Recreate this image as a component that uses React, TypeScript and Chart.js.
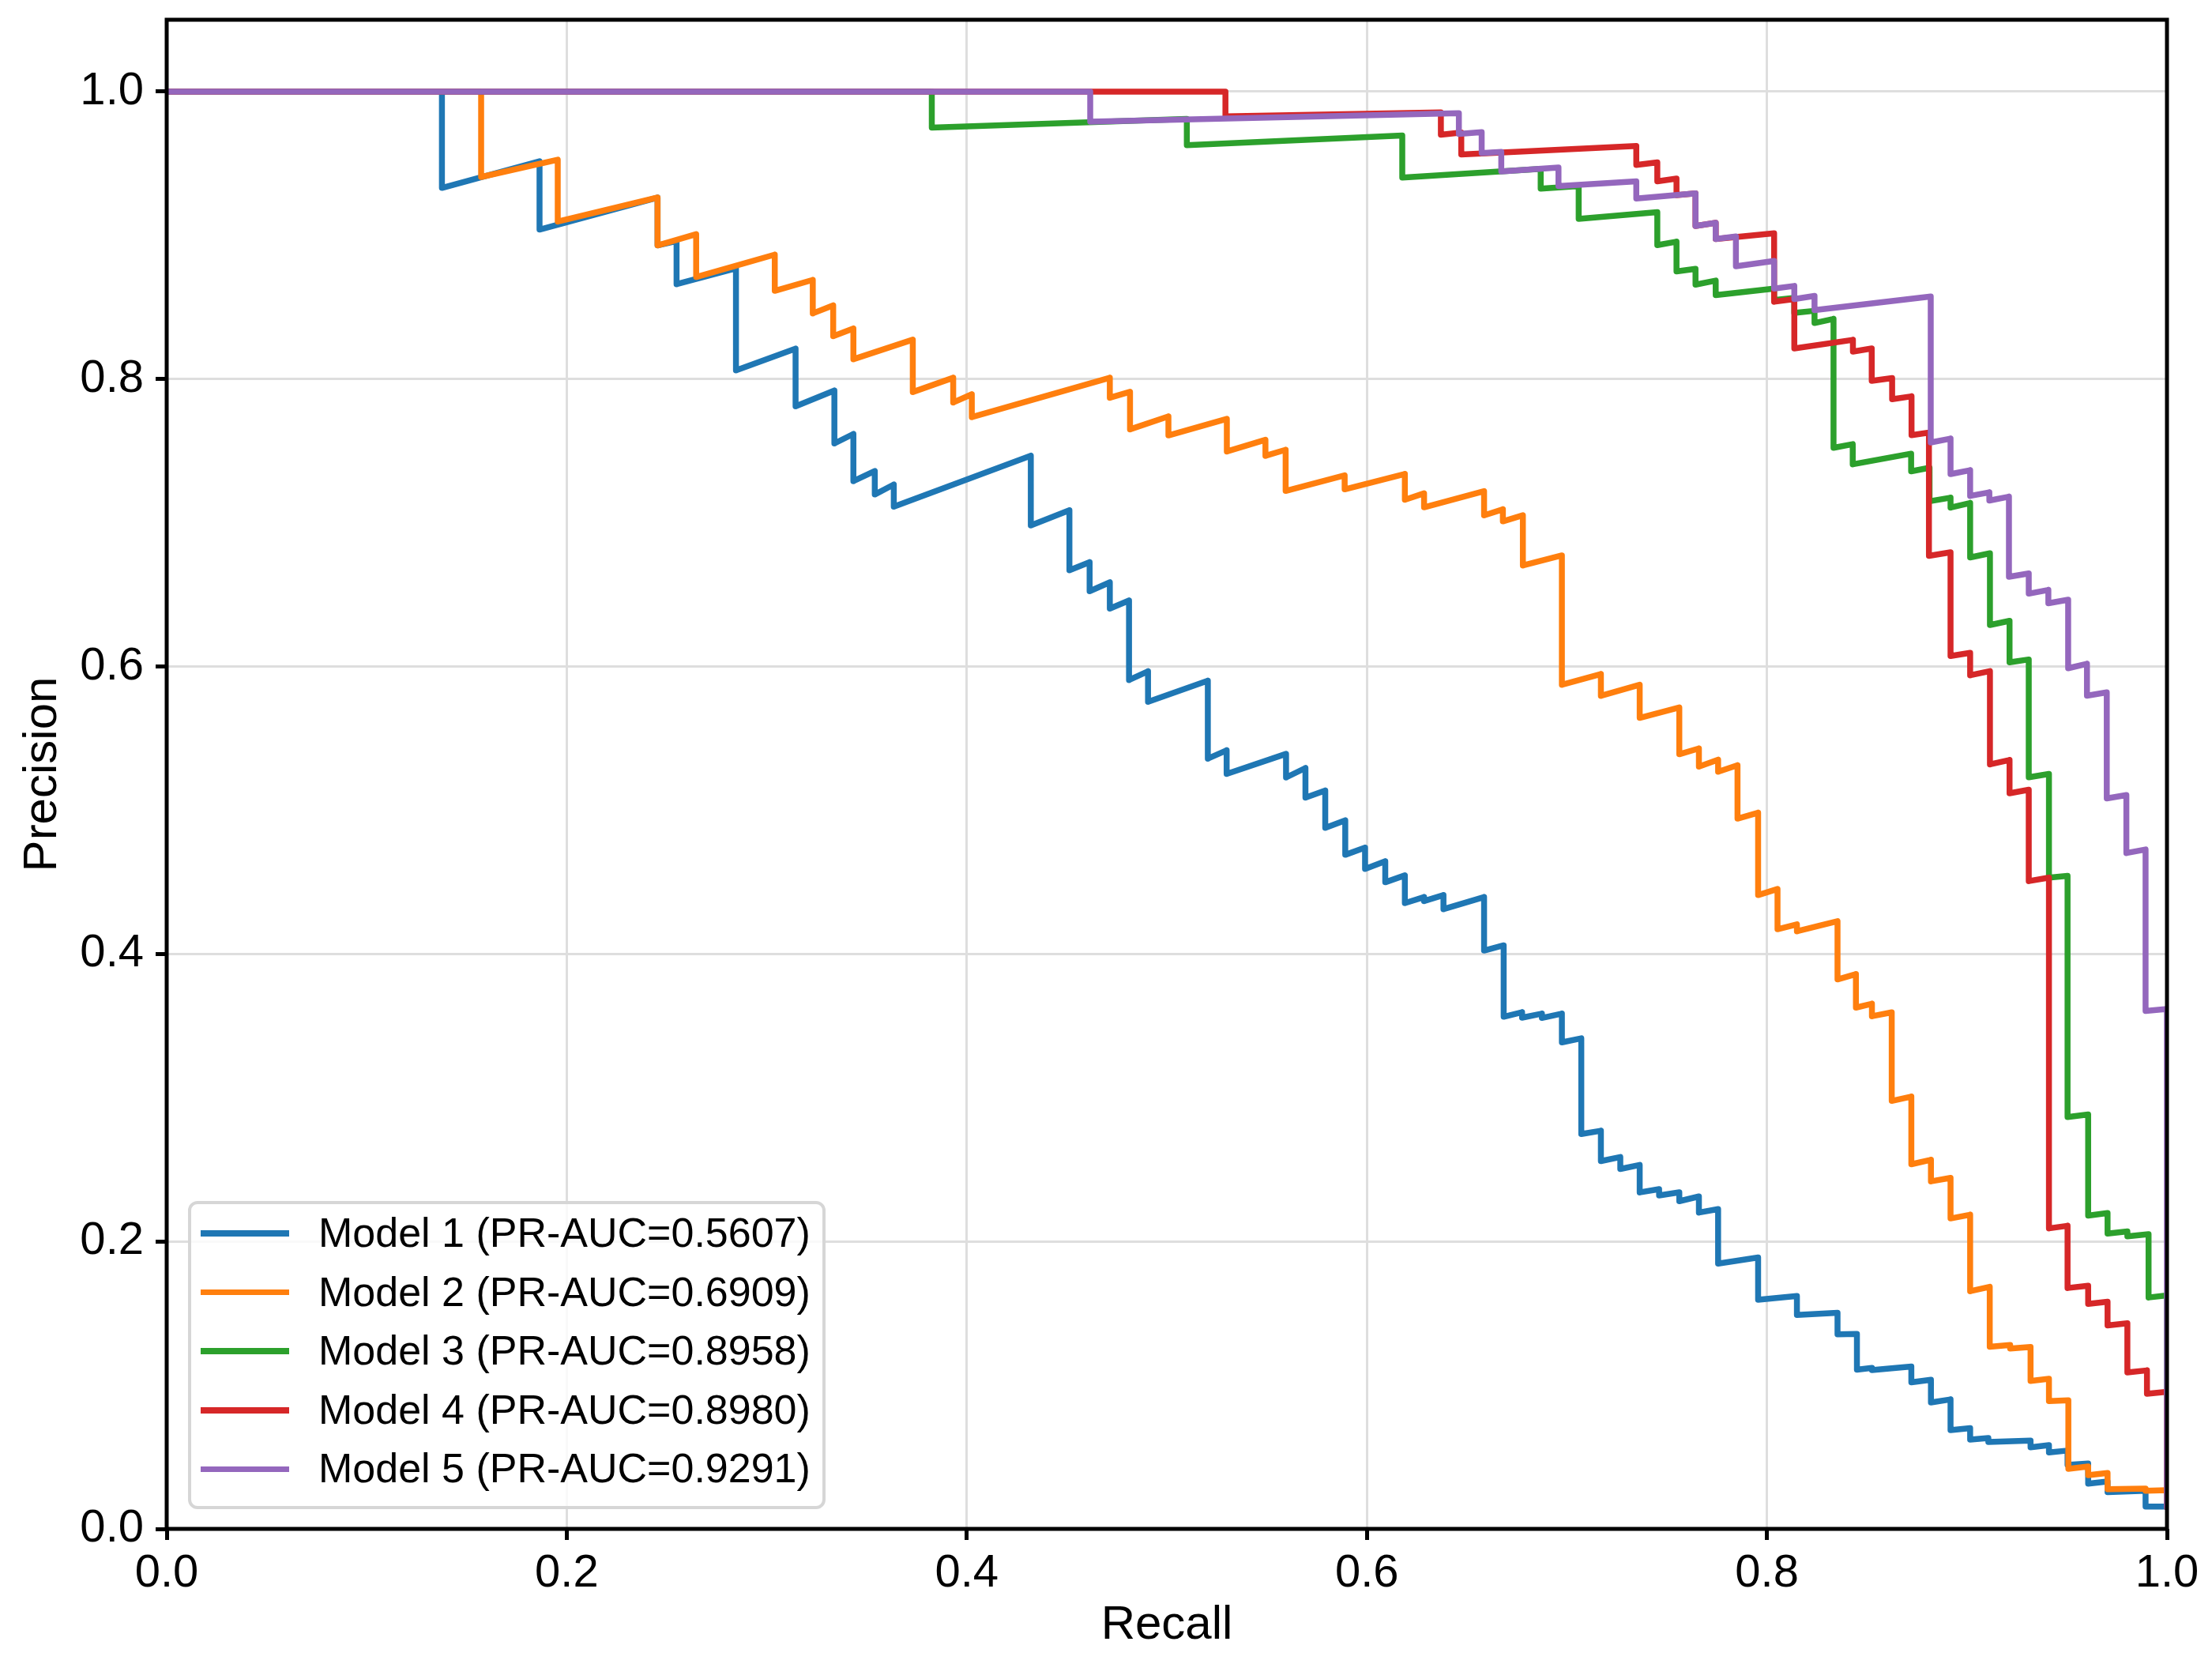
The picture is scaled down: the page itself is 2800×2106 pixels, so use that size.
import { useEffect, useRef } from 'react'
import { Chart, registerables } from 'chart.js'
Chart.register(...registerables)

const FONT = "'Liberation Sans', Arial, Helvetica, sans-serif"

// share of positives: where every curve ends at recall = 1
const BASE_RATE = 0.015

const modelNames = [
    'Model 1 (PR-AUC=0.5607)',
    'Model 2 (PR-AUC=0.6909)',
    'Model 3 (PR-AUC=0.8958)',
    'Model 4 (PR-AUC=0.8980)',
    'Model 5 (PR-AUC=0.9291)',
]
const modelColors = ['#1f77b4', '#ff7f0e', '#2ca02c', '#d62728', '#9467bd']

// each model: recall where precision drops, precision just before / after that drop,
// and the precision reached at recall = 1
const m1Recall = [0.1376, 0.1864, 0.2454, 0.2549, 0.2846, 0.3144, 0.3338, 0.3433, 0.354, 0.3635, 0.432, 0.4513, 0.4614, 0.4715, 0.4811, 0.4906, 0.5205, 0.5299, 0.5596, 0.5693, 0.5792, 0.5892, 0.5991, 0.6092, 0.619, 0.6286, 0.6383, 0.6586, 0.6684, 0.6776, 0.6875, 0.6975, 0.7072, 0.717, 0.7267, 0.7364, 0.7461, 0.7562, 0.766, 0.7756, 0.7956, 0.815, 0.8353, 0.845, 0.8525, 0.8722, 0.882, 0.8918, 0.9016, 0.9107, 0.9318, 0.941, 0.9503, 0.9606, 0.9703, 0.9893]
const m1Before = [1, 0.9515, 0.9263, 0.896, 0.877, 0.8212, 0.792, 0.7618, 0.736, 0.7266, 0.7467, 0.7087, 0.6726, 0.6586, 0.6459, 0.5967, 0.5901, 0.5417, 0.5392, 0.5294, 0.5137, 0.493, 0.474, 0.4645, 0.4547, 0.4396, 0.441, 0.4396, 0.406, 0.3595, 0.3585, 0.3585, 0.3413, 0.277, 0.2587, 0.2532, 0.2364, 0.2342, 0.2313, 0.2225, 0.1888, 0.162, 0.1503, 0.1357, 0.112, 0.113, 0.1038, 0.0901, 0.0701, 0.0632, 0.0615, 0.0583, 0.0545, 0.0455, 0.033, 0.0265]
const m1After = [0.933, 0.904, 0.893, 0.866, 0.806, 0.781, 0.7552, 0.729, 0.7197, 0.7112, 0.6982, 0.667, 0.6524, 0.6403, 0.5906, 0.5754, 0.5359, 0.5253, 0.5228, 0.5088, 0.4877, 0.469, 0.4592, 0.4499, 0.4354, 0.4368, 0.4312, 0.4024, 0.3563, 0.3557, 0.3555, 0.3385, 0.2747, 0.2559, 0.2504, 0.2341, 0.232, 0.228, 0.2201, 0.1846, 0.1594, 0.1489, 0.1354, 0.1108, 0.1105, 0.102, 0.088, 0.0687, 0.0621, 0.0605, 0.0568, 0.0532, 0.0445, 0.0315, 0.0255, 0.0155]
const m1End = 0.0155

const m2Recall = [0.1572, 0.1955, 0.2454, 0.2647, 0.304, 0.323, 0.3332, 0.3433, 0.373, 0.3932, 0.4025, 0.4715, 0.4816, 0.5008, 0.53, 0.5493, 0.5594, 0.5889, 0.619, 0.6286, 0.6586, 0.668, 0.678, 0.6975, 0.717, 0.7364, 0.7562, 0.766, 0.7756, 0.7853, 0.7956, 0.8053, 0.815, 0.8353, 0.8445, 0.8525, 0.8624, 0.8722, 0.882, 0.8918, 0.9016, 0.9114, 0.9216, 0.9318, 0.941, 0.9507, 0.9606, 0.9703, 0.9893]
const m2Before = [1, 0.9526, 0.9263, 0.9008, 0.8866, 0.869, 0.8513, 0.8352, 0.8274, 0.8009, 0.7894, 0.8009, 0.7911, 0.774, 0.7723, 0.7577, 0.7508, 0.733, 0.734, 0.7205, 0.722, 0.7094, 0.7052, 0.6773, 0.5948, 0.5873, 0.5715, 0.543, 0.5352, 0.5313, 0.4983, 0.4452, 0.4206, 0.4228, 0.386, 0.3654, 0.3594, 0.3008, 0.2568, 0.2442, 0.2186, 0.1684, 0.128, 0.1266, 0.1044, 0.0895, 0.0434, 0.0389, 0.028]
const m2After = [0.9406, 0.9096, 0.893, 0.871, 0.8614, 0.8457, 0.8298, 0.8138, 0.791, 0.7837, 0.7735, 0.787, 0.765, 0.7608, 0.7496, 0.7466, 0.7222, 0.7233, 0.716, 0.7108, 0.7052, 0.701, 0.6703, 0.5873, 0.5796, 0.5643, 0.539, 0.5304, 0.5268, 0.4942, 0.441, 0.4172, 0.4158, 0.3823, 0.3627, 0.3567, 0.2978, 0.2537, 0.2418, 0.216, 0.1654, 0.1267, 0.1255, 0.1029, 0.0889, 0.0418, 0.0374, 0.0276, 0.0265]
const m2End = 0.027

const m3Recall = [0.3825, 0.51, 0.6177, 0.6869, 0.7059, 0.7452, 0.7548, 0.7643, 0.7744, 0.8036, 0.8137, 0.8238, 0.8333, 0.8429, 0.8721, 0.8813, 0.8918, 0.9016, 0.9115, 0.9213, 0.9309, 0.941, 0.9503, 0.9606, 0.9703, 0.9802, 0.9908]
const m3Before = [1, 0.981, 0.9695, 0.9462, 0.9343, 0.9161, 0.8956, 0.8767, 0.8685, 0.863, 0.8565, 0.8475, 0.8419, 0.7547, 0.7481, 0.7383, 0.7175, 0.7138, 0.6788, 0.6318, 0.6049, 0.5253, 0.4543, 0.2883, 0.2198, 0.207, 0.205]
const m3After = [0.975, 0.9627, 0.9402, 0.9325, 0.9115, 0.8932, 0.8749, 0.8657, 0.8584, 0.855, 0.846, 0.839, 0.7522, 0.7407, 0.7358, 0.715, 0.7106, 0.6759, 0.6289, 0.6029, 0.5229, 0.4531, 0.2865, 0.218, 0.2055, 0.2035, 0.161]
const m3End = 0.1624

const m4Recall = [0.5293, 0.637, 0.6472, 0.7347, 0.7452, 0.7548, 0.7643, 0.7744, 0.8036, 0.8137, 0.843, 0.8524, 0.8626, 0.8723, 0.881, 0.8918, 0.9016, 0.9115, 0.9213, 0.9309, 0.941, 0.9503, 0.9606, 0.9703, 0.9802, 0.99]
const m4Before = [1, 0.9856, 0.9715, 0.9622, 0.9508, 0.9395, 0.9292, 0.9087, 0.9014, 0.8557, 0.8273, 0.8213, 0.8007, 0.788, 0.7628, 0.6795, 0.6095, 0.5968, 0.535, 0.5143, 0.4531, 0.2109, 0.1692, 0.158, 0.1431, 0.1103]
const m4After = [0.9828, 0.97, 0.9563, 0.949, 0.9376, 0.928, 0.9065, 0.8974, 0.8538, 0.8213, 0.8191, 0.7988, 0.786, 0.761, 0.677, 0.6073, 0.5939, 0.5319, 0.5118, 0.4507, 0.2091, 0.1676, 0.1565, 0.1416, 0.1088, 0.094]
const m4End = 0.0954

const m5Recall = [0.4617, 0.646, 0.6574, 0.6672, 0.6958, 0.7347, 0.7643, 0.7744, 0.7845, 0.8036, 0.8137, 0.8238, 0.8819, 0.8918, 0.9016, 0.9112, 0.921, 0.9309, 0.9407, 0.9506, 0.96, 0.9699, 0.9797, 0.9893]
const m5Before = [1, 0.985, 0.9718, 0.9581, 0.9472, 0.9376, 0.9292, 0.9087, 0.8992, 0.8822, 0.8648, 0.8579, 0.8575, 0.7586, 0.7366, 0.7212, 0.7182, 0.6648, 0.6533, 0.6465, 0.6019, 0.582, 0.5106, 0.4727]
const m5After = [0.9791, 0.9706, 0.9572, 0.9444, 0.9343, 0.9256, 0.9065, 0.8974, 0.8785, 0.863, 0.8557, 0.848, 0.7559, 0.7339, 0.7187, 0.7155, 0.6624, 0.6507, 0.644, 0.5988, 0.5797, 0.5082, 0.4702, 0.3603]
const m5End = 0.3617

const curves = [
    { recall: m1Recall, before: m1Before, after: m1After, end: m1End },
    { recall: m2Recall, before: m2Before, after: m2After, end: m2End },
    { recall: m3Recall, before: m3Before, after: m3After, end: m3End },
    { recall: m4Recall, before: m4Before, after: m4After, end: m4End },
    { recall: m5Recall, before: m5Before, after: m5After, end: m5End },
]

function toPoints(c: { recall: number[]; before: number[]; after: number[]; end: number }) {
    const pts = [{ x: 0, y: 1 }]
    c.recall.forEach((r, i) => {
        pts.push({ x: r, y: c.before[i] })
        pts.push({ x: r, y: c.after[i] })
    })
    pts.push({ x: 1, y: c.end })
    pts.push({ x: 1, y: BASE_RATE })
    return pts
}

// matplotlib-like box round the axes, drawn above the lines
const framePlugin = {
    id: 'frame',
    afterDatasetsDraw(chart: any) {
        const { ctx, chartArea: { left, top, right, bottom } } = chart
        ctx.save()
        ctx.strokeStyle = '#000'
        ctx.lineWidth = 5
        ctx.strokeRect(left, top, right - left, bottom - top)
        ctx.restore()
    },
}

const fmt = (v: any) => Number(v).toFixed(1)

export default function App() {
    const canvasRef = useRef<HTMLCanvasElement>(null)
    const chartRef = useRef<Chart | null>(null)

    useEffect(() => {
        if (!canvasRef.current) return
        chartRef.current?.destroy()
        chartRef.current = new Chart(canvasRef.current, {
            type: 'scatter',
            data: {
                datasets: curves.map((c, i) => ({
                    label: modelNames[i],
                    data: toPoints(c),
                    showLine: true,
                    borderColor: modelColors[i],
                    backgroundColor: modelColors[i],
                    borderWidth: 7.5,
                    pointRadius: 0,
                    pointHoverRadius: 0,
                    tension: 0,
                    clip: 0,
                    order: curves.length - i,
                    borderJoinStyle: 'round' as const,
                })),
            },
            options: {
                responsive: false,
                devicePixelRatio: 1,
                animation: false,
                events: [],
                layout: { padding: { top: 25, right: 57, left: 0, bottom: 0 } },
                plugins: { legend: { display: false }, tooltip: { enabled: false } },
                scales: {
                    x: {
                        type: 'linear',
                        min: 0,
                        max: 1,
                        afterFit: (s: any) => { s.height = 171; s.paddingLeft = 0; s.paddingRight = 0 },
                        border: { display: false },
                        grid: { color: '#dedede', lineWidth: 3, tickColor: '#000', tickWidth: 5, tickLength: 14 },
                        ticks: {
                            stepSize: 0.2,
                            includeBounds: false,
                            autoSkip: false,
                            maxRotation: 0,
                            padding: 8,
                            color: '#000',
                            font: { family: FONT, size: 58 },
                            callback: fmt,
                        },
                        title: {
                            display: true,
                            text: 'Recall',
                            color: '#000',
                            font: { family: FONT, size: 60 },
                            padding: { top: 0, bottom: 13 },
                        },
                    },
                    y: {
                        type: 'linear',
                        min: 0,
                        max: 1.05,
                        afterFit: (s: any) => { s.width = 211; s.paddingTop = 0; s.paddingBottom = 0 },
                        border: { display: false },
                        grid: { color: '#dedede', lineWidth: 3, tickColor: '#000', tickWidth: 5, tickLength: 14 },
                        ticks: {
                            stepSize: 0.2,
                            includeBounds: false,
                            autoSkip: false,
                            padding: 15,
                            color: '#000',
                            font: { family: FONT, size: 58 },
                            callback: fmt,
                        },
                        title: {
                            display: true,
                            text: 'Precision',
                            color: '#000',
                            font: { family: FONT, size: 60 },
                            padding: { top: 18, bottom: 0 },
                        },
                    },
                },
            },
            plugins: [framePlugin],
        } as any)
        return () => chartRef.current?.destroy()
    }, [])

    return (
        <div style={{ position: 'absolute', left: 0, top: 0, width: 2800, height: 2106, background: '#fff', fontFamily: FONT }}>
            <canvas ref={canvasRef} width={2800} height={2106} style={{ display: 'block' }} />
            <div style={{
                position: 'absolute', left: 238, top: 1520, width: 807, height: 390, boxSizing: 'border-box',
                border: '4px solid #d6d6d6', borderRadius: 12, background: 'rgba(255,255,255,0.8)',
            }} />
            {modelNames.map((name, i) => {
                const cy = 1561 + i * 74.6
                return (
                    <div key={name}>
                        <div style={{ position: 'absolute', left: 254, top: cy - 3.75, width: 112, height: 7.5, background: modelColors[i] }} />
                        <div style={{ position: 'absolute', left: 403, top: cy - 27, fontSize: 52, lineHeight: '52px', color: '#000', whiteSpace: 'nowrap' }}>
                            {name}
                        </div>
                    </div>
                )
            })}
        </div>
    )
}
